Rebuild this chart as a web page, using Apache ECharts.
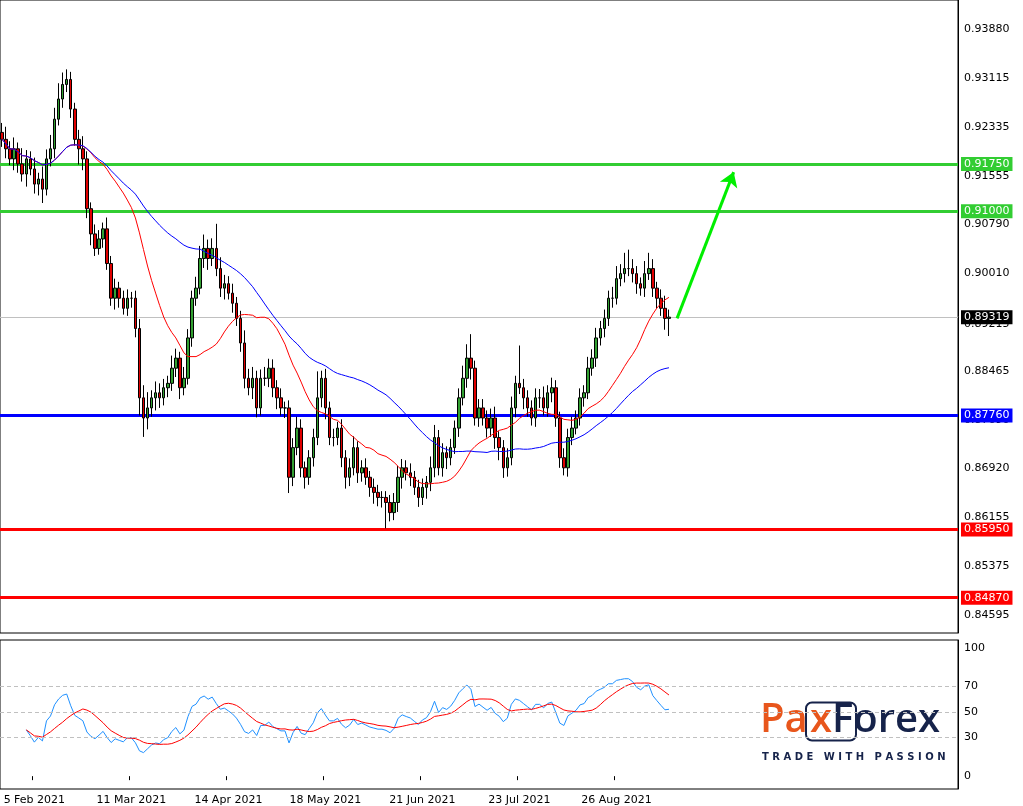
<!DOCTYPE html>
<html><head><meta charset="utf-8">
<script src="https://cdn.jsdelivr.net/npm/echarts@6/dist/echarts.min.js"></script>
<style>html,body{margin:0;padding:0;background:#fff}#c{width:1023px;height:806px}</style>
</head><body><div id="c"></div>
<script>
const closes = [
0.9214,0.9199,0.9183,0.9199,0.9175,0.9159,0.9183,0.9167,0.9143,0.9151,0.9135,
0.9183,0.9199,0.9246,0.9278,0.9301,0.9309,
0.9262,0.9214,0.9199,0.9183,
0.9104,0.9064,0.9041,0.9056,
0.9072,0.9017,0.8962,0.8978,0.8962,0.8946,
0.8962,0.8962,0.8914,0.8804,
0.8772,0.8788,0.8804,0.8812,0.8804,0.8820,
0.8827,0.8851,0.8867,0.8820,0.8835,0.8899,
0.8962,0.8978,0.9025,0.9041,0.9025,0.9041,
0.9009,0.8978,0.8985,0.8970,0.8954,0.8930,
0.8891,0.8835,0.8820,0.8835,0.8788,0.8835,
0.8835,0.8851,0.8820,0.8804,0.8788,0.8788,
0.8678,0.8725,0.8756,0.8693,0.8678,0.8709,
0.8741,0.8804,0.8835,0.8788,0.8741,0.8741,
0.8756,0.8709,0.8678,0.8693,0.8725,0.8685,
0.8693,0.8678,0.8662,0.8654,0.8646,0.8646,
0.8638,0.8622,0.8638,0.8678,0.8693,0.8685,
0.8678,0.8662,0.8646,0.8662,0.8670,0.8693,
0.8741,0.8693,0.8717,0.8709,0.8725,0.8756,
0.8804,0.8835,0.8867,0.8851,0.8772,0.8788,
0.8772,0.8756,0.8772,0.8741,0.8725,0.8693,
0.8709,0.8788,0.8827,0.8820,0.8804,0.8788,
0.8772,0.8804,0.8804,0.8788,0.8812,0.8820,
0.8772,0.8709,0.8693,0.8741,0.8756,0.8772,
0.8804,0.8812,0.8851,0.8867,0.8899,0.8914,
0.8930,0.8962,0.8962,0.8993,0.9001,0.9009,
0.9009,0.9001,0.8985,0.8978,0.9001,0.9009,
0.8978,0.8962,0.8946,0.8930,0.8932];
const firstOpen = 0.9225;
// wick sizes in units of 0.0001
const wickUp = [15,20,12,18,10,25,14,12,18,10,20, 15,22,18,25,19,16, 12,10,15,20, 12,10,15,14, 10,18,12,15,10,12, 14,10,12,15,
20,25,12,18,15,14, 12,20,15,10,18,14, 12,18,20,22,14,16, 39,18,14,12,15,10, 12,20,15,18,12,14, 18,15,14,12,15,10,
12,15,18,14,10,12, 14,42,12,15,10,14, 10,14,12,15,18,10, 12,15,10,14,12,10, 10,12,15,18,14,12, 15,10,12,14,10,18,
20,12,15,10,14,12, 15,20,22,38,12,14, 14,12,15,18,10,12, 15,18,12,60,14,12, 12,15,14,18,12,16, 12,10,15,14,18,12,
15,12,18,14,16,12, 14,12,18,20,15,25, 30,15,12,10,20,25, 15,10,14,20,12];
const wickDn = [12,15,10,18,14,12,20,10,15,18,22, 10,12,15,10,14,12, 14,10,25,18, 15,18,12,10, 14,10,12,18,15,10, 12,15,14,28,
30,18,14,20,16,12, 15,12,14,18,12,10, 14,12,10,15,18,12, 12,14,18,10,15,12, 14,16,12,18,15,12, 12,14,15,18,12,16,
25,14,12,15,18,12, 14,12,15,18,12,14, 12,15,18,14,12,16, 14,12,15,18,14,16, 41,14,12,15,18,12, 14,12,15,12,18,14,
15,12,14,18,12,10, 14,12,15,18,12,14, 12,15,14,18,20,16, 14,12,15,10,18,14, 12,14,16,12,14,15, 14,16,12,14,12,10,
12,14,10,12,14,12, 14,12,15,10,12,14, 12,14,16,12,14,10, 14,16,12,18,28];
const levelsGreen = [0.9175, 0.9100];
const levelBlue = 0.8776;
const levelsRed = [0.8595, 0.8487];
const currentPrice = 0.89319;
const priceTicks = ['0.93880','0.93115','0.92335','0.91555','0.90790','0.90010','0.89215','0.88465','0.87690','0.86920','0.86155','0.85375','0.84595'];
const oscTicks = [100,70,50,30,0];
const dateLabels = ['5 Feb 2021','11 Mar 2021','14 Apr 2021','18 May 2021','21 Jun 2021','23 Jul 2021','26 Aug 2021'];
const arrowFrom = [167, 0.8930], arrowTo = [181, 0.9162];

const MON = ['Jan','Feb','Mar','Apr','May','Jun','Jul','Aug','Sep','Oct','Nov','Dec'];
const cats = [];
let d = new Date(Date.UTC(2021,0,26));
while (cats.length < 237) {
  const wd = d.getUTCDay();
  if (wd !== 0 && wd !== 6) cats.push(d.getUTCDate()+' '+MON[d.getUTCMonth()]+' '+d.getUTCFullYear());
  d = new Date(d.getTime()+86400000);
}
const ohlc = closes.map((c,i)=>{
  const o = i===0 ? firstOpen : closes[i-1];
  return [o, c, Math.min(o,c)-wickDn[i]/10000, Math.max(o,c)+wickUp[i]/10000];
});
function sma(arr,n){return arr.map((_,i)=>{const s=Math.max(0,i-n+1);let t=0,c=0;for(let k=s;k<=i;k++){if(arr[k]!=null){t+=arr[k];c++;}}return c?+(t/c).toFixed(5):null;});}
const ma20 = sma(closes,20), ma50 = sma(closes,50);
const rsi=[];let ag=0,al=0;
for(let i=0;i<closes.length;i++){
  if(i===0){rsi.push(null);continue;}
  const ch=closes[i]-closes[i-1];const g=Math.max(ch,0),l=Math.max(-ch,0);
  if(i<=14){ag=(ag*(i-1)+g)/i;al=(al*(i-1)+l)/i;}else{ag=(ag*13+g)/14;al=(al*13+l)/14;}
  rsi.push(i<6?null:(al===0?100:100-100/(1+ag/al)));
}
const rsiSig = sma(rsi,10);

const F = 'DejaVu Sans';
const ch = echarts.init(document.getElementById('c'));
function lvl(v,color,w,txt){return {yAxis:v,lineStyle:{color,width:w,type:'solid'},label:{show:true,position:'end',distance:3,formatter:txt,backgroundColor:color,color:'#fff',padding:[2,3,1,3],fontFamily:F,fontSize:11}};}
ch.setOption({
  animation:false,
  backgroundColor:'#fff',
  grid:[{left:0,right:65,top:0,height:633,show:true,borderColor:'#000',borderWidth:1},
        {left:0,right:65,top:640,height:150,show:true,borderColor:'#000',borderWidth:1}],
  xAxis:[
    {type:'category',gridIndex:0,data:cats,boundaryGap:true,axisLine:{show:false},axisTick:{show:false},axisLabel:{show:false},splitLine:{show:false}},
    {type:'category',gridIndex:1,data:cats,boundaryGap:true,axisLine:{show:false},
     axisTick:{show:true,interval:(i,v)=>dateLabels.includes(v),length:4,lineStyle:{color:'#000'}},
     axisLabel:{interval:(i,v)=>dateLabels.includes(v),color:'#000',fontFamily:F,fontSize:11,margin:6},splitLine:{show:false}}
  ],
  yAxis:[
    {type:'value',gridIndex:0,position:'right',min:0.84310,max:0.94350,interval:0.00005,
     axisLine:{show:true,lineStyle:{color:'#000'}},axisTick:{show:false},splitLine:{show:false},
     axisLabel:{color:'#000',fontFamily:F,fontSize:11,margin:6,showMinLabel:false,showMaxLabel:false,
       formatter:v=>{const s=v.toFixed(5);return priceTicks.includes(s)?s:'';}}},
    {type:'value',gridIndex:1,position:'right',min:-10,max:106,interval:1,
     axisLine:{show:true,lineStyle:{color:'#000'}},axisTick:{show:false},splitLine:{show:false},
     axisLabel:{color:'#000',fontFamily:F,fontSize:11,margin:6,showMinLabel:false,showMaxLabel:false,
       formatter:v=>oscTicks.includes(Math.round(v))&&Math.abs(v-Math.round(v))<1e-6?String(Math.round(v)):''}}
  ],
  series:[
    {type:'candlestick',xAxisIndex:0,yAxisIndex:0,data:ohlc,barWidth:3,z:3,
     itemStyle:{color:'#32a032',color0:'#e00000',borderColor:'#000',borderColor0:'#000',borderWidth:1},
     markLine:{symbol:'none',silent:true,precision:5,z:1,data:[
       {yAxis:currentPrice,lineStyle:{color:'#c0c0c0',width:1,type:'solid'},label:{show:true,position:'end',distance:3,formatter:currentPrice.toFixed(5),backgroundColor:'#000',color:'#fff',padding:[2,3,1,3],fontFamily:F,fontSize:11}},
       lvl(levelsGreen[0],'#32cd32',3,levelsGreen[0].toFixed(5)),
       lvl(levelsGreen[1],'#32cd32',3,levelsGreen[1].toFixed(5)),
       lvl(levelBlue,'#0000ff',3,levelBlue.toFixed(5)),
       lvl(levelsRed[0],'#ff0000',3,levelsRed[0].toFixed(5)),
       lvl(levelsRed[1],'#ff0000',3,levelsRed[1].toFixed(5))
     ]}},
    {type:'line',xAxisIndex:0,yAxisIndex:0,data:ma20,symbol:'none',lineStyle:{color:'#ff0000',width:1},z:4},
    {type:'line',xAxisIndex:0,yAxisIndex:0,data:ma50,symbol:'none',lineStyle:{color:'#0000ff',width:1},z:4,
     markLine:{silent:true,precision:5,symbol:['none','arrow'],symbolSize:14,lineStyle:{color:'#00ee00',width:3,type:'solid'},label:{show:false},
       data:[[{coord:[cats[arrowFrom[0]],arrowFrom[1]]},{coord:[cats[arrowTo[0]],arrowTo[1]]}]]}},
    {type:'line',xAxisIndex:1,yAxisIndex:1,data:rsi.map(v=>v==null?null:+v.toFixed(2)),symbol:'none',lineStyle:{color:'#1e90ff',width:1},z:3,
     markLine:{symbol:'none',silent:true,label:{show:false},lineStyle:{color:'#c0c0c0',type:[4,3],width:1},data:[{yAxis:70},{yAxis:50},{yAxis:30}]}},
    {type:'line',xAxisIndex:1,yAxisIndex:1,data:rsiSig,symbol:'none',lineStyle:{color:'#ff0000',width:1},z:4}
  ],
  graphic:[
    {type:'group',left:760,top:700,z:100,children:[
      {type:'rect',shape:{x:46,y:2,width:50,height:38,r:6},style:{fill:'none',stroke:'#16234a',lineWidth:2}},
      {type:'text',x:0,y:0,style:{text:'Pa',fill:'#e8561c',font:'600 40px "Open Sans"'}},
      {type:'text',x:50,y:0,style:{text:'x',fill:'#e8561c',font:'600 40px "Open Sans"'}},
      {type:'text',x:72,y:0,style:{text:'Forex',fill:'#16234a',font:'600 40px "Open Sans"'}},
      {type:'text',x:2,y:52,style:{text:'T R A D E   W I T H   P A S S I O N',fill:'#16234a',font:'bold 10px "DejaVu Sans"'}}
    ]}
  ]
});
</script></body></html>
